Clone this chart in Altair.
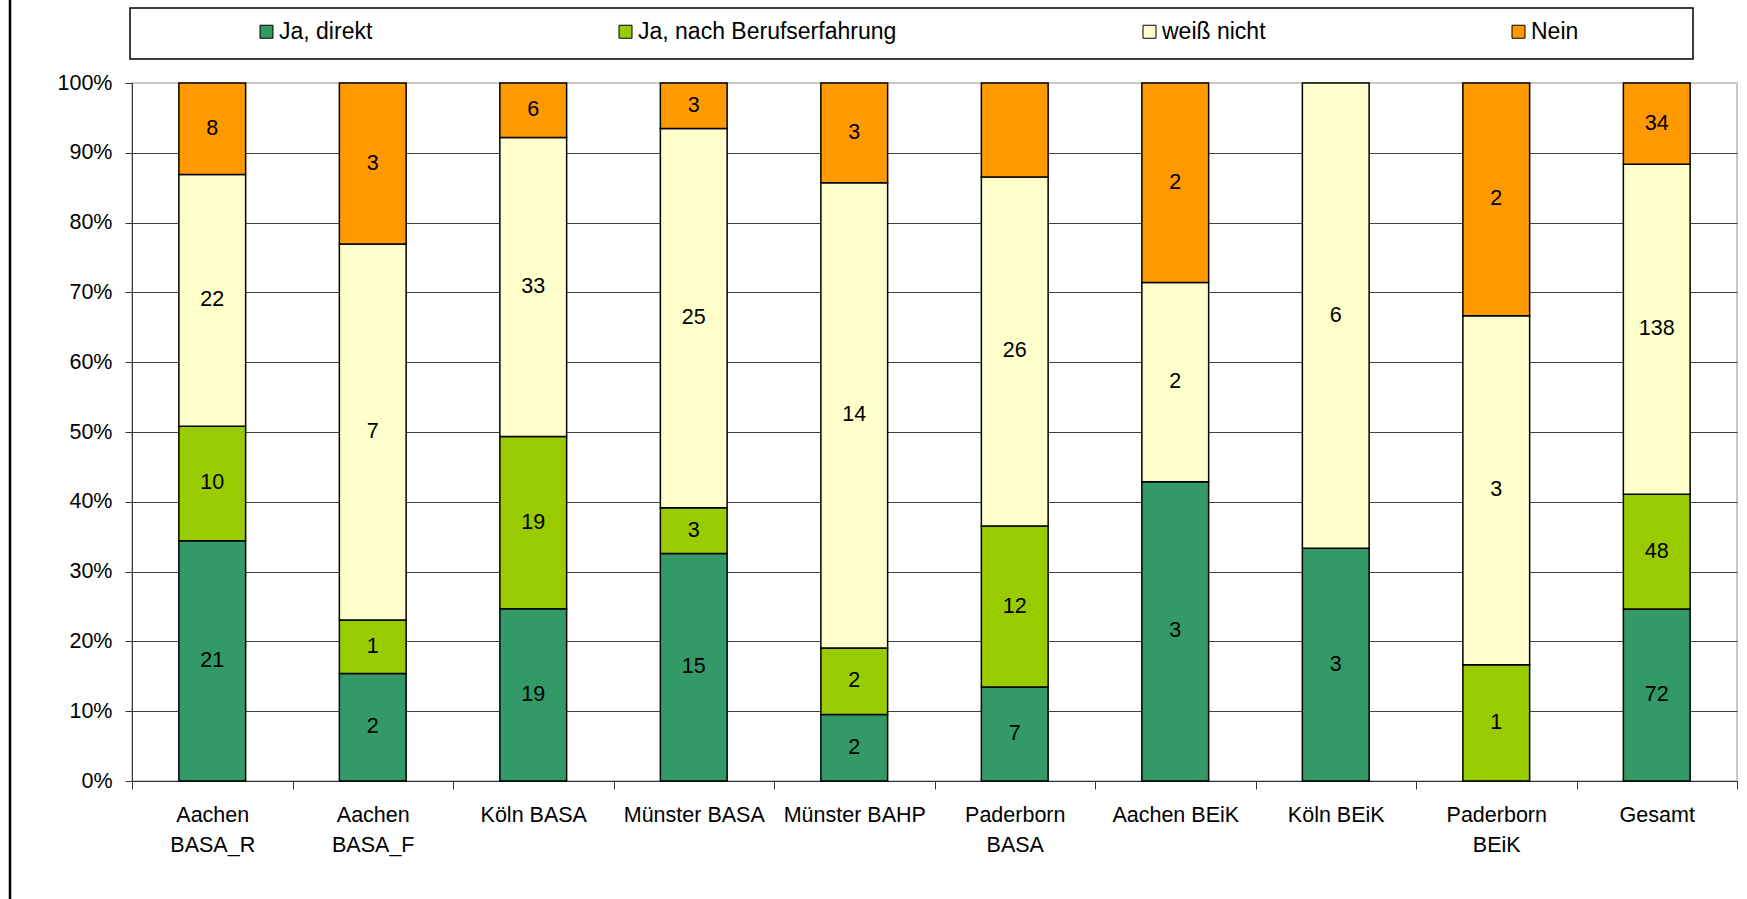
import altair as alt
import pandas as pd

# Survey answers per study programme (counts)
sites = [
    "Aachen BASA_R", "Aachen BASA_F", "Köln BASA", "Münster BASA", "Münster BAHP",
    "Paderborn BASA", "Aachen BEiK", "Köln BEiK", "Paderborn BEiK", "Gesamt",
]
answers = ["Ja, direkt", "Ja, nach Berufserfahrung", "weiß nicht", "Nein"]
ja_direkt = [21, 2, 19, 15, 2, 7, 3, 3, 0, 72]
ja_nach_berufserfahrung = [10, 1, 19, 3, 2, 12, 0, 0, 1, 48]
weiss_nicht = [22, 7, 33, 25, 14, 26, 2, 6, 3, 138]
nein = [8, 3, 6, 3, 3, 7, 2, 0, 2, 34]
colors = ["#339966", "#99CC00", "#FFFFCC", "#FF9900"]

# axis labels broken onto two lines
wrapped_sites = ["Aachen BASA_R", "Aachen BASA_F", "Paderborn BASA", "Paderborn BEiK"]
# segments drawn without a count label
unlabelled = [("Paderborn BASA", "Nein")]

rows = []
series = [ja_direkt, ja_nach_berufserfahrung, weiss_nicht, nein]
for rank, (answer, values) in enumerate(zip(answers, series)):
    for site, v in zip(sites, values):
        if v == 0:
            continue
        rows.append({
            "site": site, "answer": answer, "rank": rank, "count": v,
            "show": (site, answer) not in unlabelled,
        })
df = pd.DataFrame(rows)

FONT = "Liberation Sans"
W, H = 1605, 698
PAD = {"left": 132, "top": 83, "right": 10, "bottom": 118}

wrap_list = "[" + ",".join("'" + s + "'" for s in wrapped_sites) + "]"
x_axis = alt.Axis(
    title=None, labelAngle=0, tickBand="extent", tickSize=8, tickColor="#333333",
    domainColor="#333333", labelFont=FONT, labelFontSize=21.5, labelColor="black",
    labelPadding=15, labelLineHeight=30, labelLimit=0,
    labelExpr=f"indexof({wrap_list}, datum.label) >= 0 ? split(datum.label, ' ') : datum.label",
)
y_axis = alt.Axis(
    title=None, values=[i / 10 for i in range(11)], format=".0%",
    labelFont=FONT, labelFontSize=21.5, labelColor="black", labelPadding=13,
    tickSize=7, tickColor="#333333", domainColor="#333333",
    grid=True, gridWidth=1,
    gridColor={"condition": {"test": "datum.value >= 1", "value": "#C8C8C8"}, "value": "#404040"},
)
x_enc = alt.X("site:N", sort=sites, scale=alt.Scale(paddingInner=0, paddingOuter=0), axis=x_axis)
y_scale = alt.Scale(domain=[0, 1], nice=False)

base = alt.Chart(df).transform_stack(
    stack="count", groupby=["site"], as_=["y0", "y1"], offset="normalize",
    sort=[alt.SortField("rank", order="ascending")],
).transform_calculate(mid="(datum.y0 + datum.y1) / 2")

bars = base.mark_bar(width=alt.RelativeBandSize(0.416), stroke="black", strokeWidth=1.5).encode(
    x=x_enc,
    y=alt.Y("y0:Q", scale=y_scale, axis=y_axis),
    y2="y1:Q",
    color=alt.Color(
        "answer:N",
        scale=alt.Scale(domain=answers, range=colors),
        legend=alt.Legend(
            title=None, orient="none", legendX=123, legendY=-63, direction="horizontal",
            columns=4, columnPadding=241, gridAlign="each", symbolType="square",
            symbolSize=169, symbolStrokeColor="black", symbolStrokeWidth=1,
            labelFont=FONT, labelFontSize=23, labelColor="black",
            labelOffset=1,
            padding=0, labelLimit=0,
        ),
    ),
)

labels = base.transform_filter("datum.show").mark_text(
    font=FONT, fontSize=21.5, color="black", align="center", baseline="middle"
).encode(
    x=x_enc,
    y=alt.Y("mid:Q", scale=y_scale, axis=y_axis),
    text="count:Q",
)

# frame around the legend entries
legend_box = alt.Chart(alt.Data(values=[{}])).mark_rect(
    fill="white", stroke="black", strokeWidth=1.5
).encode(x=alt.value(-2), x2=alt.value(1561), y=alt.value(-75), y2=alt.value(-24))

# left edge of the chart frame
frame = alt.Chart(alt.Data(values=[{}])).mark_rule(color="black", strokeWidth=2.5).encode(
    x=alt.value(-122), y=alt.value(-83), y2=alt.value(816)
)

chart = alt.layer(frame, legend_box, bars, labels).properties(
    width=W, height=H, padding=PAD, autosize=alt.AutoSizeParams(type="none"),
    background="white",
).configure_view(stroke="#C8C8C8", strokeWidth=2)

chart.save("out.html", embed_options={"renderer": "svg", "actions": False})
